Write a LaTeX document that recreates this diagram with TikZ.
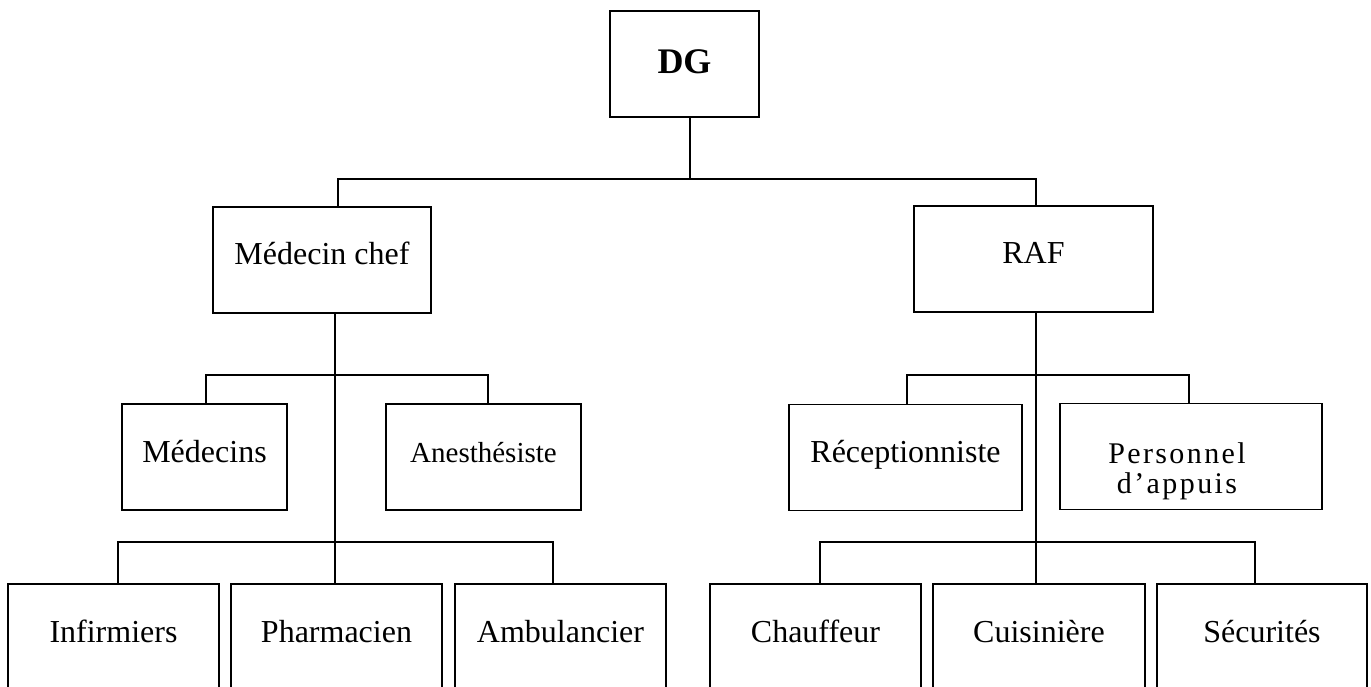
\documentclass[tikz,border=0pt]{standalone}
\usepackage{fontspec}
\setmainfont{Liberation Serif}
\begin{document}
\begin{tikzpicture}[x=1pt,y=-1pt,line width=1.8pt,
  box/.style={draw,inner sep=0pt,minimum height=106pt,text height=24pt,text depth=14pt,
    font=\fontsize{32}{36}\selectfont}]
\useasboundingbox (0,0) rectangle (1371,687);
\clip (0,0) rectangle (1371,687);
% boxes
\node[box,minimum width=149pt,text height=26pt,text depth=6pt,
  font=\fontsize{36}{40}\selectfont\bfseries] (dg) at (684.5,64) {DG};
\node[box,minimum width=218pt] (mc) at (322,260) {Médecin chef};
\node[box,minimum width=239pt] (raf) at (1033.5,259) {RAF};
\node[box,minimum width=165pt] (med) at (204.5,457) {Médecins};
\node[box,minimum width=195pt,font=\fontsize{29}{32}\selectfont] (ane) at (483.5,457) {Anesthésiste};
\node[box,minimum width=233pt] (rec) at (905.5,457.5) {Réceptionniste};
\node[box,minimum width=262pt,align=center,text height=82pt,text depth=9pt,
  font=\fontsize{30}{30}\selectfont\addfontfeature{LetterSpace=8}] (pers) at (1191,456.5)
  {Personnel\hspace*{28pt}\\d’appuis\hspace*{28pt}};
\node[box,minimum width=211pt] (inf) at (113.5,637) {Infirmiers};
\node[box,minimum width=211pt] (pha) at (336.5,637) {Pharmacien};
\node[box,minimum width=211pt] (amb) at (560.5,637) {Ambulancier};
\node[box,minimum width=211pt] (chf) at (815.5,637) {Chauffeur};
\node[box,minimum width=212pt] (cui) at (1039,637) {Cuisinière};
\node[box,minimum width=210pt] (sec) at (1262,637) {Sécurités};
% bus points
\coordinate (bus0) at (690,179);
\coordinate (busL) at (335,375);
\coordinate (busLL) at (335,542);
\coordinate (busR) at (1036,375);
\coordinate (busRR) at (1036,542);
% connectors
\draw ([xshift=5.5pt]dg.south) -- (bus0);
\draw ([xshift=16pt]mc.north) |- (bus0) -| ([xshift=2.5pt]raf.north);
\draw ([xshift=13pt]mc.south) -- (busLL);
\draw ([xshift=1.5pt]med.north) |- (busL) -| ([xshift=4.5pt]ane.north);
\draw ([xshift=4.5pt]inf.north) |- (busLL) -| ([xshift=-7.5pt]amb.north);
\draw (busLL) -- ([xshift=-1.5pt]pha.north);
\draw ([xshift=2.5pt]raf.south) -- (busRR);
\draw ([xshift=1.5pt]rec.north) |- (busR) -| ([xshift=-2pt]pers.north);
\draw ([xshift=4.5pt]chf.north) |- (busRR) -| ([xshift=-7pt]sec.north);
\draw (busRR) -- ([xshift=-3pt]cui.north);
\end{tikzpicture}
\end{document}
